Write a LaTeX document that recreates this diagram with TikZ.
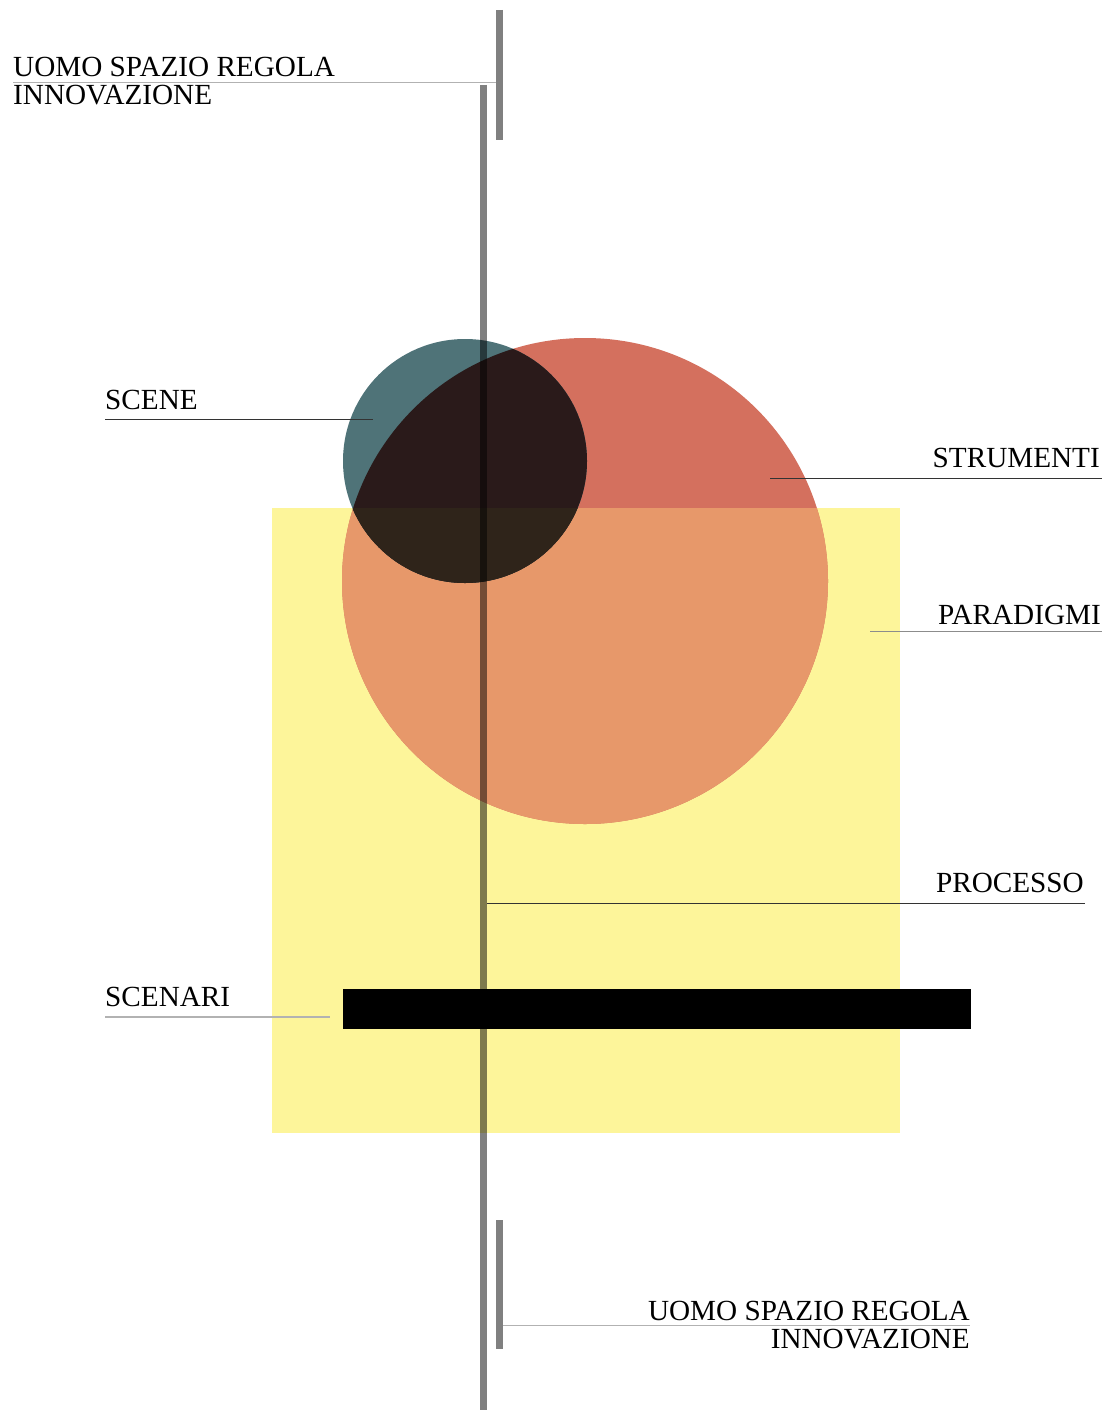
\documentclass[tikz,border=0pt]{standalone}
\usepackage{fontspec}
\setmainfont{Liberation Serif}
\definecolor{yellowc}{HTML}{FDF59A}
\definecolor{redc}{HTML}{D4705E}
\definecolor{orangec}{HTML}{E7986A}
\definecolor{tealc}{HTML}{4F7378}
\definecolor{darkc}{HTML}{2A1A1A}
\definecolor{darkyc}{HTML}{2F241A}
\definecolor{barc}{HTML}{808080}
\begin{document}
\begin{tikzpicture}[x=1pt,y=-1pt,
  lbl/.style={inner sep=0pt,font=\fontsize{29.2}{28}\selectfont},
  lead/.style={line width=1pt,draw=black!80},
  leadlight/.style={line width=1.2pt,draw=black!30},
  bar/.style={line width=7pt,draw=barc}]
\useasboundingbox (0,0) rectangle (1108,1410);
\fill[white] (0,0) rectangle (1108,1410);
% yellow square
\fill[yellowc] (272,508) rectangle (900,1133);
% big circle
\fill[redc] (585,581) circle (243);
\begin{scope}
  \clip (272,508) rectangle (900,1133);
  \fill[orangec] (585,581) circle (243);
\end{scope}
% small circle
\fill[tealc] (465,461) circle (122);
\begin{scope}
  \clip (585,581) circle (243);
  \fill[darkc] (465,461) circle (122);
  \clip (272,508) rectangle (900,1133);
  \fill[darkyc] (465,461) circle (122);
\end{scope}
% black bar
\fill[black] (343,989) rectangle (971,1029);
% long vertical line
\begin{scope}[blend mode=multiply]
  \draw[bar] (483,85) coordinate (axtop) -- (483,1410) coordinate (axbot);
\end{scope}
% short bars
\draw[bar] (499.5,10) coordinate (tbA) -- (499.5,140) coordinate (tbB);
\draw[bar] (499.5,1220) coordinate (bbA) -- (499.5,1349) coordinate (bbB);
% top label
\node[lbl,anchor=base west] (top1) at (13,77) {UOMO SPAZIO REGOLA};
\node[lbl,anchor=base west] (top2) at (13,105) {INNOVAZIONE};
\coordinate (tl1) at (13,82.5);
\coordinate (tl2) at (496,82.5);
\draw[leadlight] (tl1) -- (tl2);
% bottom label
\node[lbl,anchor=base east] (bot1) at (970,1320) {UOMO SPAZIO REGOLA};
\node[lbl,anchor=base east] (bot2) at (970,1348) {INNOVAZIONE};
\coordinate (bl1) at (503,1325.5);
\coordinate (bl2) at (970,1325.5);
\draw[leadlight] (bl1) -- (bl2);
% SCENE
\node[lbl,anchor=base west] (scene) at (105,409) {SCENE};
\coordinate (sc1) at (105,419);
\coordinate (sc2) at (373,419);
\draw[lead] (sc1) -- (sc2);
% STRUMENTI
\node[lbl,anchor=base east] (strum) at (1100,467) {STRUMENTI};
\coordinate (st1) at (770,478);
\coordinate (st2) at (1102,478);
\draw[lead] (st1) -- (st2);
% PARADIGMI
\node[lbl,anchor=base east] (parad) at (1101,624) {PARADIGMI};
\coordinate (pa1) at (870,631);
\coordinate (pa2) at (1102,631);
\draw[line width=1pt,draw=black!45] (pa1) -- (pa2);
% PROCESSO
\node[lbl,anchor=base east] (proc) at (1084,892) {PROCESSO};
\coordinate (pr1) at (487,903);
\coordinate (pr2) at (1085,903);
\draw[lead] (pr1) -- (pr2);
% SCENARI
\node[lbl,anchor=base west] (scenari) at (105,1006) {SCENARI};
\coordinate (sn1) at (105,1017);
\coordinate (sn2) at (330,1017);
\draw[leadlight] (sn1) -- (sn2);
\end{tikzpicture}
\end{document}
